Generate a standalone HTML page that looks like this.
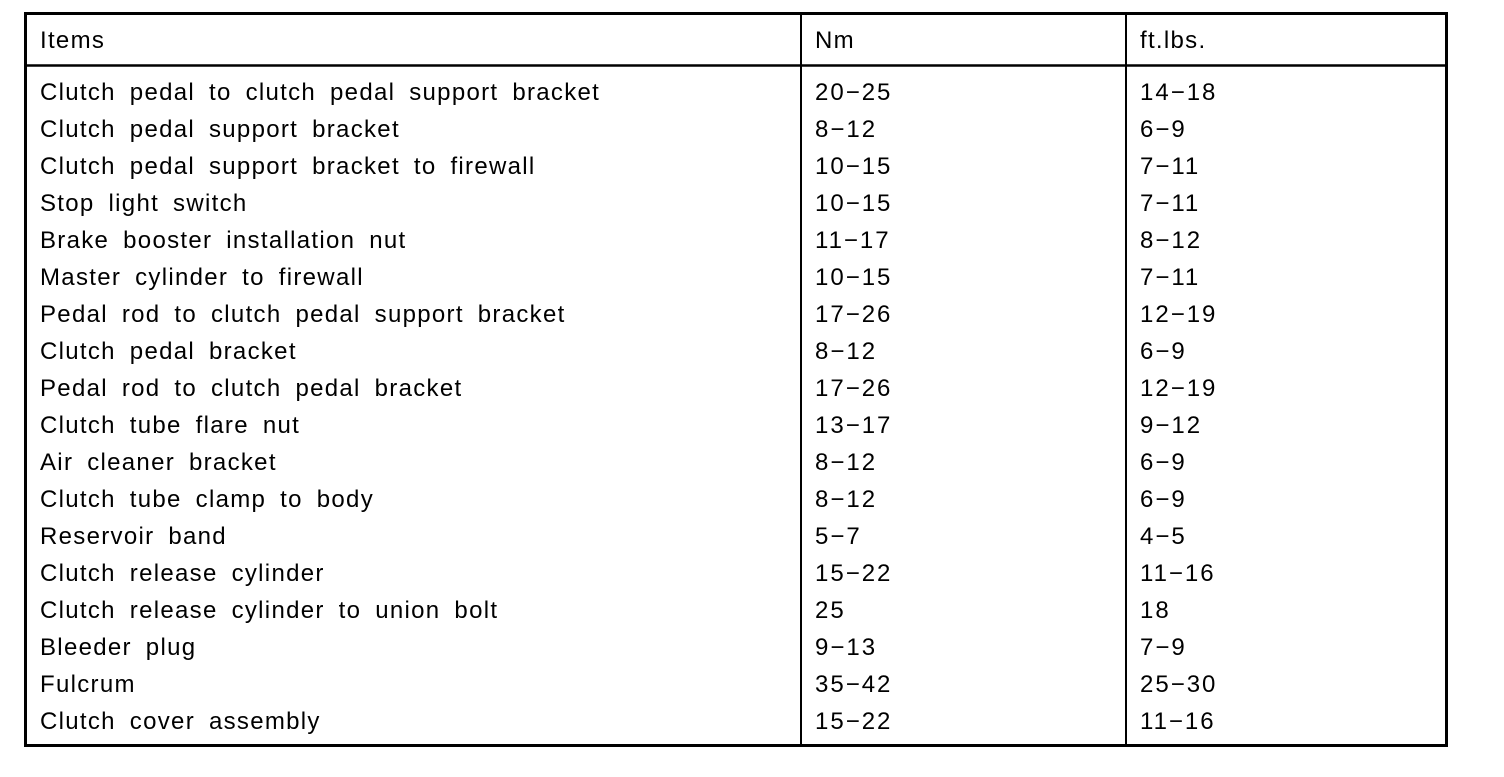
<!DOCTYPE html>
<html><head><style>
body{margin:0;background:#fff;}
svg text{font-family:"Liberation Sans",Arial,sans-serif;font-size:24px;fill:#000;letter-spacing:1.3px;word-spacing:6px;}
svg text.n{letter-spacing:2px;}
</style></head><body>
<svg width="1504" height="772" xmlns="http://www.w3.org/2000/svg">
<rect x="25.5" y="13.5" width="1421" height="732" fill="none" stroke="#000" stroke-width="3"/>
<line x1="25" y1="65.5" x2="1447" y2="65.5" stroke="#000" stroke-width="2.5"/>
<line x1="801" y1="13" x2="801" y2="746" stroke="#000" stroke-width="2"/>
<line x1="1126" y1="13" x2="1126" y2="746" stroke="#000" stroke-width="2"/>
<text x="40" y="48">Items</text><text x="815" y="48">Nm</text><text x="1140" y="48">ft.lbs.</text>
<g>
<text x="40" y="100">Clutch pedal to clutch pedal support bracket</text><text class="n" x="815" y="100">20−25</text><text class="n" x="1140" y="100">14−18</text>
<text x="40" y="137">Clutch pedal support bracket</text><text class="n" x="815" y="137">8−12</text><text class="n" x="1140" y="137">6−9</text>
<text x="40" y="174">Clutch pedal support bracket to firewall</text><text class="n" x="815" y="174">10−15</text><text class="n" x="1140" y="174">7−11</text>
<text x="40" y="211">Stop light switch</text><text class="n" x="815" y="211">10−15</text><text class="n" x="1140" y="211">7−11</text>
<text x="40" y="248">Brake booster installation nut</text><text class="n" x="815" y="248">11−17</text><text class="n" x="1140" y="248">8−12</text>
<text x="40" y="285">Master cylinder to firewall</text><text class="n" x="815" y="285">10−15</text><text class="n" x="1140" y="285">7−11</text>
<text x="40" y="322">Pedal rod to clutch pedal support bracket</text><text class="n" x="815" y="322">17−26</text><text class="n" x="1140" y="322">12−19</text>
<text x="40" y="359">Clutch pedal bracket</text><text class="n" x="815" y="359">8−12</text><text class="n" x="1140" y="359">6−9</text>
<text x="40" y="396">Pedal rod to clutch pedal bracket</text><text class="n" x="815" y="396">17−26</text><text class="n" x="1140" y="396">12−19</text>
<text x="40" y="433">Clutch tube flare nut</text><text class="n" x="815" y="433">13−17</text><text class="n" x="1140" y="433">9−12</text>
<text x="40" y="470">Air cleaner bracket</text><text class="n" x="815" y="470">8−12</text><text class="n" x="1140" y="470">6−9</text>
<text x="40" y="507">Clutch tube clamp to body</text><text class="n" x="815" y="507">8−12</text><text class="n" x="1140" y="507">6−9</text>
<text x="40" y="544">Reservoir band</text><text class="n" x="815" y="544">5−7</text><text class="n" x="1140" y="544">4−5</text>
<text x="40" y="581">Clutch release cylinder</text><text class="n" x="815" y="581">15−22</text><text class="n" x="1140" y="581">11−16</text>
<text x="40" y="618">Clutch release cylinder to union bolt</text><text class="n" x="815" y="618">25</text><text class="n" x="1140" y="618">18</text>
<text x="40" y="655">Bleeder plug</text><text class="n" x="815" y="655">9−13</text><text class="n" x="1140" y="655">7−9</text>
<text x="40" y="692">Fulcrum</text><text class="n" x="815" y="692">35−42</text><text class="n" x="1140" y="692">25−30</text>
<text x="40" y="729">Clutch cover assembly</text><text class="n" x="815" y="729">15−22</text><text class="n" x="1140" y="729">11−16</text>
</g>
</svg>
</body></html>
